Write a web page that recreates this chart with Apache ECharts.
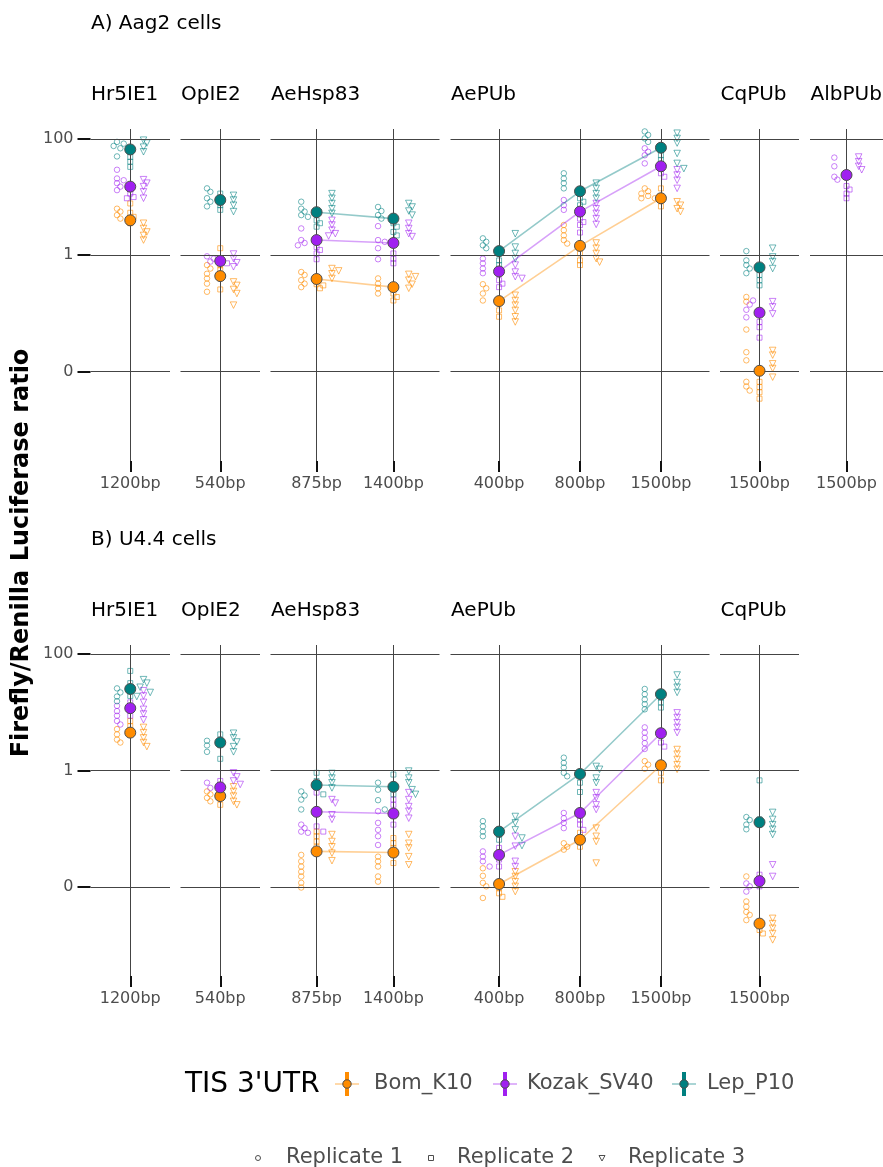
<!DOCTYPE html>
<html><head><meta charset="utf-8">
<script src="https://cdn.jsdelivr.net/npm/echarts@6/dist/echarts.min.js"></script>
<style>html,body{margin:0;padding:0;background:#fff}#c{width:883px;height:1167px}</style>
</head><body><div id="c"></div>
<script>
const FONT = 'DejaVu Sans';
const panelTitles = ['A) Aag2 cells', 'B) U4.4 cells'];
const promoters = ['Hr5IE1', 'OpIE2', 'AeHsp83', 'AePUb', 'CqPUb', 'AlbPUb'];
const promoterCats = [['1200bp'], ['540bp'], ['875bp', '1400bp'], ['400bp', '800bp', '1500bp'], ['1500bp'], ['1500bp']];
const seriesNames = ['Bom_K10', 'Kozak_SV40', 'Lep_P10'];
const replicateNames = ['Replicate 1', 'Replicate 2', 'Replicate 3'];
// y axis: log10 of Firefly/Renilla ratio; ticks at 0.01, 1, 100
const yTickValues = [-2, 0, 2];
const yTickLabels = ['0', '1', '100'];

// ---- Panel A (Aag2), log10 ratio. Category order:
// Hr5IE1 1200, OpIE2 540, AeHsp83 875, AeHsp83 1400, AePUb 400, AePUb 800, AePUb 1500, CqPUb 1500, AlbPUb 1500
const A_bom_mean = [0.60, -0.36, -0.41, -0.55, -0.79, 0.16, 0.98, -1.99, null];
const A_koz_mean = [1.18, -0.10, 0.26, 0.21, -0.28, 0.75, 1.53, -0.99, 1.38];
const A_lep_mean = [1.82, 0.95, 0.74, 0.63, 0.07, 1.10, 1.85, -0.21, null];

const A_bom_r1 = [[0.80,0.75,0.69,0.63],[-0.17,-0.23,-0.32,-0.40,-0.49,-0.63],[-0.29,-0.34,-0.43,-0.49,-0.55],[-0.40,-0.49,-0.57,-0.66],[-0.50,-0.57,-0.66,-0.78],[0.52,0.43,0.34,0.26,0.20],[1.15,1.10,1.06,1.02,0.98,0.98],[-0.72,-0.80,-1.28,-1.67,-1.81,-2.18,-2.26,-2.33],[]];
const A_bom_r2 = [[0.89,0.73,0.66,0.55],[0.12,-0.17,-0.26,-0.59],[-0.50,-0.52,-0.57],[-0.66,-0.72,-0.78],[-0.80,-0.95,-1.06],[0.03,-0.09,-0.17],[1.15,0.95,0.84],[-2.18,-2.27,-2.36,-2.47],[]];
const A_bom_r3 = [[0.55,0.46,0.40,0.34,0.26],[-0.46,-0.52,-0.59,-0.66,-0.86],[-0.23,-0.27,-0.32,-0.40],[-0.33,-0.37,-0.43,-0.50,-0.57],[-0.69,-0.78,-0.86,-0.95,-1.06,-1.15],[0.21,0.12,0.03,-0.06,-0.12],[0.92,0.86,0.80,0.75],[-1.64,-1.72,-1.87,-1.95,-2.10],[]];

const A_koz_r1 = [[1.47,1.32,1.29,1.24,1.18,1.12],[-0.02,-0.06,-0.11],[0.46,0.26,0.21,0.17],[0.50,0.26,0.23,0.12,-0.07],[-0.06,-0.14,-0.23,-0.31],[0.95,0.86,0.78],[1.84,1.78,1.72,1.58],[-0.78,-0.85,-0.94,-1.07],[1.68,1.53,1.35,1.30]];
const A_koz_r2 = [[1.06,1.00,0.98],[-0.09,-0.14],[0.14,0.09,0.03,-0.07],[0.03,-0.06,-0.14],[-0.43,-0.49,-0.55],[0.63,0.57,0.52,0.39],[1.49,1.41,1.35],[-1.15,-1.24,-1.42],[1.19,1.13,1.06,0.98]];
const A_koz_r3 = [[1.30,1.24,1.18,1.09,0.98],[0.02,-0.06,-0.13,-0.20],[0.60,0.52,0.43,0.37,0.33],[0.55,0.46,0.37,0.32],[-0.17,-0.29,-0.37,-0.40],[0.89,0.80,0.72,0.63,0.53],[1.47,1.38,1.29,1.15],[-0.80,-0.89,-1.01],[1.69,1.61,1.53,1.47]];

const A_lep_r1 = [[1.95,1.92,1.88,1.84,1.70],[1.15,1.09,0.98,0.92,0.84],[0.92,0.80,0.75,0.69,0.66],[0.83,0.76,0.69,0.63],[0.29,0.23,0.17,0.12],[1.41,1.32,1.24,1.15],[2.13,2.07,2.01,1.95],[0.07,-0.09,-0.17,-0.23,-0.31],[]];
const A_lep_r2 = [[1.78,1.69,1.61,1.52],[1.06,0.95,0.86,0.78],[0.60,0.55,0.49],[0.55,0.49,0.40,0.34],[0.03,-0.09,-0.17],[0.98,0.92,0.86],[1.81,1.72,1.64],[-0.34,-0.43,-0.52],[]];
const A_lep_r3 = [[1.98,1.93,1.86,1.78],[1.03,0.95,0.86,0.75],[1.06,0.98,0.89,0.80,0.72],[0.89,0.83,0.76,0.69],[0.37,0.14,0.03,-0.06],[1.24,1.15,1.06,0.98],[2.10,2.01,1.93,1.75,1.58,1.49],[0.12,-0.03,-0.11,-0.23],[]];

// ---- Panel B (U4.4), log10 ratio. Same order without AlbPUb
const B_bom_mean = [0.65, -0.44, -1.39, -1.41, -1.95, -1.19, 0.09, -2.63];
const B_koz_mean = [1.07, -0.29, -0.71, -0.74, -1.45, -0.73, 0.64, -1.90];
const B_lep_mean = [1.40, 0.48, -0.25, -0.28, -1.05, -0.06, 1.31, -0.89];

const B_bom_r1 = [[0.71,0.62,0.53,0.48],[-0.36,-0.41,-0.47,-0.53],[-1.45,-1.56,-1.65,-1.74,-1.82,-1.93,-2.01],[-1.48,-1.56,-1.65,-1.82,-1.91],[-1.68,-1.81,-1.93,-1.99,-2.19],[-1.25,-1.31,-1.36],[0.16,0.10,0.03],[-1.82,-2.25,-2.34,-2.43,-2.48,-2.57]];
const B_bom_r2 = [[0.85,0.76],[-0.41,-0.59],[-1.05,-1.13,-1.22,-1.31],[-1.16,-1.25,-1.33,-1.59],[-2.02,-2.11,-2.17],[-1.07,-1.16,-1.31],[-0.04,-0.17],[-2.74,-2.80]];
const B_bom_r3 = [[0.74,0.65,0.56,0.48,0.41],[-0.28,-0.36,-0.44,-0.53,-0.59],[-1.10,-1.22,-1.31,-1.42,-1.55],[-1.10,-1.25,-1.33,-1.48,-1.62],[-1.74,-1.82,-1.91,-1.99,-2.08],[-0.99,-1.13,-1.22,-1.59],[0.36,0.28,0.19,0.10,0.02],[-2.54,-2.63,-2.71,-2.80,-2.91]];

const B_koz_r1 = [[1.11,1.02,0.94,0.85,0.79],[-0.21,-0.30],[-0.93,-0.99,-1.05,-1.07],[-0.70,-0.90,-1.02,-1.13,-1.28],[-1.39,-1.48,-1.56,-1.65],[-0.73,-0.82,-0.90,-0.99],[0.74,0.65,0.56,0.47,0.37],[-1.94,-1.99,-2.08]];
const B_koz_r2 = [[1.17,1.05,0.94],[-0.18,-0.33],[-0.38,-0.96,-1.05],[-0.50,-0.59,-0.93],[-1.33,-1.53,-1.65],[-0.84,-0.93,-1.02],[0.48,0.41],[-1.79,-1.99]];
const B_koz_r3 = [[1.37,1.28,1.17,1.05,0.97,0.87],[-0.04,-0.11,-0.18,-0.24],[-0.50,-0.56,-0.76,-0.84],[-0.38,-0.50,-0.62,-0.70,-0.82],[-1.13,-1.30,-1.56,-1.65],[-0.38,-0.47,-0.59,-0.67],[0.99,0.91,0.82,0.74,0.65],[-1.62,-1.82]];

const B_lep_r1 = [[1.41,1.34,1.27,1.19],[0.51,0.43,0.32],[-0.36,-0.43,-0.50,-0.67],[-0.21,-0.33,-0.51,-0.67],[-0.87,-0.96,-1.05,-1.13],[0.22,0.13,0.05,-0.04,-0.10],[1.40,1.31,1.22,1.14,1.05],[-0.80,-0.85,-0.93,-1.01]];
const B_lep_r2 = [[1.71,1.50,1.28],[0.62,0.20],[-0.04,-0.18,-0.41],[-0.07,-0.27,-0.41],[-1.10,-1.19],[-0.07,-0.21,-0.37],[1.25,1.17,1.08],[-0.17,-0.84]];
const B_lep_r3 = [[1.56,1.50,1.43,1.34,1.27],[0.64,0.56,0.49,0.41,0.32],[-0.05,-0.13,-0.21,-0.30],[-0.01,-0.13,-0.21,-0.33,-0.41],[-0.79,-0.90,-1.02,-1.16,-1.29],[0.07,0.02,-0.13,-0.21],[1.64,1.51,1.43,1.34],[-0.72,-0.84,-0.93,-1.01,-1.10]];

// ---------- styling / layout ----------
const baseColor = ['#FF8C00', '#A020F0', '#008080'];
const repColor = ['rgba(255,140,0,0.75)', 'rgba(160,32,240,0.7)', 'rgba(0,128,128,0.7)'];
const lineColor = ['rgba(255,140,0,0.42)', 'rgba(160,32,240,0.42)', 'rgba(0,128,128,0.42)'];
const repSymbol = ['circle', 'rect', 'triangle'];
const repSize = [5.5, 5, 6.5];
const repRotate = [0, 0, 180];
const repOffset = [-0.2, 0, 0.2];
const facetLeft = [90.5, 180.5, 270.5, 450.5, 720, 810];
const facetWidth = [79.5, 79.5, 169, 259, 79, 80];
const panelTop = [129, 645];
const panelHeight = [332, 331];
const yMin = [-3.543, -3.53];
const yMax = [2.172, 2.155];
const titleY = [24, 540];
const stripY = [95, 611];

const panelData = [
  {nFacets: 6, means: [A_bom_mean, A_koz_mean, A_lep_mean],
   reps: [[A_bom_r1, A_bom_r2, A_bom_r3], [A_koz_r1, A_koz_r2, A_koz_r3], [A_lep_r1, A_lep_r2, A_lep_r3]]},
  {nFacets: 5, means: [B_bom_mean, B_koz_mean, B_lep_mean],
   reps: [[B_bom_r1, B_bom_r2, B_bom_r3], [B_koz_r1, B_koz_r2, B_koz_r3], [B_lep_r1, B_lep_r2, B_lep_r3]]}
];

function swarmOffsets(items, pxPerY, d) {
  const placed = [];
  return items.map(v => {
    const yp = v * pxPerY;
    let off = 0;
    for (let step = 0; step < 30; step++) {
      off = step === 0 ? 0 : (step % 2 ? 1 : -1) * Math.ceil(step / 2) * d * 0.8;
      if (placed.every(q => (q.x - off) ** 2 + (q.y - yp) ** 2 >= d * d)) break;
    }
    placed.push({x: off, y: yp});
    return off;
  });
}

const grids = [], xAxes = [], yAxes = [], series = [], graphics = [];

panelData.forEach((pd, p) => {
  let flat = 0;
  const pxPerY = panelHeight[p] / (yMax[p] - yMin[p]);
  graphics.push({type: 'text', x: 91, y: titleY[p], style: {text: panelTitles[p], fontSize: 20, fontFamily: FONT, fill: '#000', verticalAlign: 'middle'}});
  for (let f = 0; f < pd.nFacets; f++) {
    const cats = promoterCats[f];
    const n = cats.length;
    const gi = grids.length;
    const xmin = -0.6, xmax = n - 1 + 0.6;
    const pxPerX = facetWidth[f] / (xmax - xmin);
    grids.push({left: facetLeft[f], top: panelTop[p], width: facetWidth[f], height: panelHeight[p]});
    const catIdx = cats.map((c, i) => i);
    xAxes.push({
      type: 'value', gridIndex: gi, min: xmin, max: xmax, position: 'bottom',
      axisLine: {show: false, onZero: false}, splitLine: {show: false},
      axisTick: {show: true, customValues: catIdx, length: 11, lineStyle: {color: '#111', width: 2}},
      axisLabel: {show: true, customValues: catIdx, formatter: v => cats[Math.round(v)],
        color: '#4d4d4d', fontSize: 16, fontFamily: FONT, margin: 15}
    });
    yAxes.push({
      type: 'value', gridIndex: gi, min: yMin[p], max: yMax[p], position: 'left',
      axisLine: {show: false, onZero: false}, splitLine: {show: false},
      axisTick: {show: f === 0, customValues: yTickValues, length: 13, lineStyle: {color: '#111', width: 2}},
      axisLabel: {show: f === 0, customValues: yTickValues,
        formatter: v => yTickLabels[yTickValues.indexOf(Math.round(v))],
        color: '#4d4d4d', fontSize: 16, fontFamily: FONT, margin: 17}
    });
    // panel grid lines
    series.push({
      type: 'line', xAxisIndex: gi, yAxisIndex: gi, data: [], silent: true,
      markLine: {
        silent: true, symbol: ['none', 'none'], label: {show: false}, animation: false,
        lineStyle: {color: '#444', width: 1, type: 'solid'}, emphasis: {disabled: true},
        data: yTickValues.map(v => ({yAxis: v})).concat(catIdx.map(i => ({xAxis: i})))
      }
    });
    // replicate points
    const repData = [0, 1, 2].map(() => [[], [], []]); // [s][r]
    for (let ci = 0; ci < n; ci++) {
      for (let r = 0; r < 3; r++) {
        const items = [], owners = [];
        for (let s = 0; s < 3; s++) {
          (pd.reps[s][r][flat + ci] || []).forEach(v => { items.push(v); owners.push(s); });
        }
        const offs = swarmOffsets(items, pxPerY, 4.2);
        items.forEach((v, k) => {
          repData[owners[k]][r].push([ci + repOffset[r] + offs[k] / pxPerX, v]);
        });
      }
    }
    for (let s = 0; s < 3; s++) {
      for (let r = 0; r < 3; r++) {
        if (!repData[s][r].length) continue;
        series.push({
          type: 'scatter', name: seriesNames[s] + ' ' + replicateNames[r], xAxisIndex: gi, yAxisIndex: gi,
          data: repData[s][r], symbol: repSymbol[r], symbolSize: repSize[r], symbolRotate: repRotate[r],
          itemStyle: {color: 'rgba(255,255,255,0)', borderColor: repColor[s], borderWidth: 1},
          silent: true, z: 3, animation: false
        });
      }
    }
    // means
    for (let s = 0; s < 3; s++) {
      const md = catIdx.map(i => [i, pd.means[s][flat + i]]).filter(d => d[1] != null);
      if (!md.length) continue;
      series.push({
        type: 'line', name: seriesNames[s], xAxisIndex: gi, yAxisIndex: gi, data: md,
        symbol: 'circle', symbolSize: 11, showSymbol: true,
        lineStyle: {color: lineColor[s], width: 1.6},
        itemStyle: {color: baseColor[s], borderColor: '#4d4d4d', borderWidth: 1},
        silent: true, z: 5, animation: false
      });
    }
    graphics.push({type: 'text', x: facetLeft[f] + 0.5, y: stripY[p],
      style: {text: promoters[f], fontSize: 20, fontFamily: FONT, fill: '#000', verticalAlign: 'middle'}});
    flat += n;
  }
});

// y axis title
graphics.push({type: 'text', x: 22, y: 553, rotation: Math.PI / 2,
  style: {text: 'Firefly/Renilla Luciferase ratio', fontSize: 24, fontWeight: 'bold', fontFamily: FONT,
    fill: '#000', align: 'center', verticalAlign: 'middle'}});

// legend 1
graphics.push({type: 'text', x: 185, y: 1085, style: {text: "TIS 3'UTR", fontSize: 28, fontFamily: FONT, fill: '#000', verticalAlign: 'middle'}});
const legX = [347, 505, 684];
const legTextX = [374, 527, 707];
seriesNames.forEach((nm, s) => {
  const cx = legX[s], cy = 1084;
  graphics.push({type: 'line', shape: {x1: cx - 12, y1: cy, x2: cx + 12, y2: cy}, style: {stroke: lineColor[s], lineWidth: 1.6}});
  graphics.push({type: 'line', shape: {x1: cx, y1: cy - 12, x2: cx, y2: cy + 12}, style: {stroke: baseColor[s], lineWidth: 4}});
  graphics.push({type: 'circle', shape: {cx: cx, cy: cy, r: 4.2}, style: {fill: baseColor[s], stroke: '#4d4d4d', lineWidth: 1}});
  graphics.push({type: 'text', x: legTextX[s], y: cy, style: {text: nm, fontSize: 21, fontFamily: FONT, fill: '#4d4d4d', verticalAlign: 'middle'}});
});
// legend 2
const repLegX = [258, 431, 602];
const repLegTextX = [286, 457, 628];
const ly = 1158;
graphics.push({type: 'circle', shape: {cx: repLegX[0], cy: ly, r: 2.5}, style: {fill: 'none', stroke: '#4d4d4d', lineWidth: 1}});
graphics.push({type: 'rect', shape: {x: repLegX[1] - 2.5, y: ly - 2.5, width: 5, height: 5}, style: {fill: 'none', stroke: '#4d4d4d', lineWidth: 1}});
graphics.push({type: 'polygon', shape: {points: [[repLegX[2] - 3, ly - 2.5], [repLegX[2] + 3, ly - 2.5], [repLegX[2], ly + 3]]}, style: {fill: 'none', stroke: '#4d4d4d', lineWidth: 1}});
replicateNames.forEach((nm, r) => {
  graphics.push({type: 'text', x: repLegTextX[r], y: ly, style: {text: nm, fontSize: 21, fontFamily: FONT, fill: '#4d4d4d', verticalAlign: 'middle'}});
});

const chart = echarts.init(document.getElementById('c'), null, {renderer: 'canvas'});
chart.setOption({
  animation: false,
  backgroundColor: '#fff',
  textStyle: {fontFamily: FONT},
  grid: grids, xAxis: xAxes, yAxis: yAxes, series: series,
  graphic: graphics
});
</script></body></html>
